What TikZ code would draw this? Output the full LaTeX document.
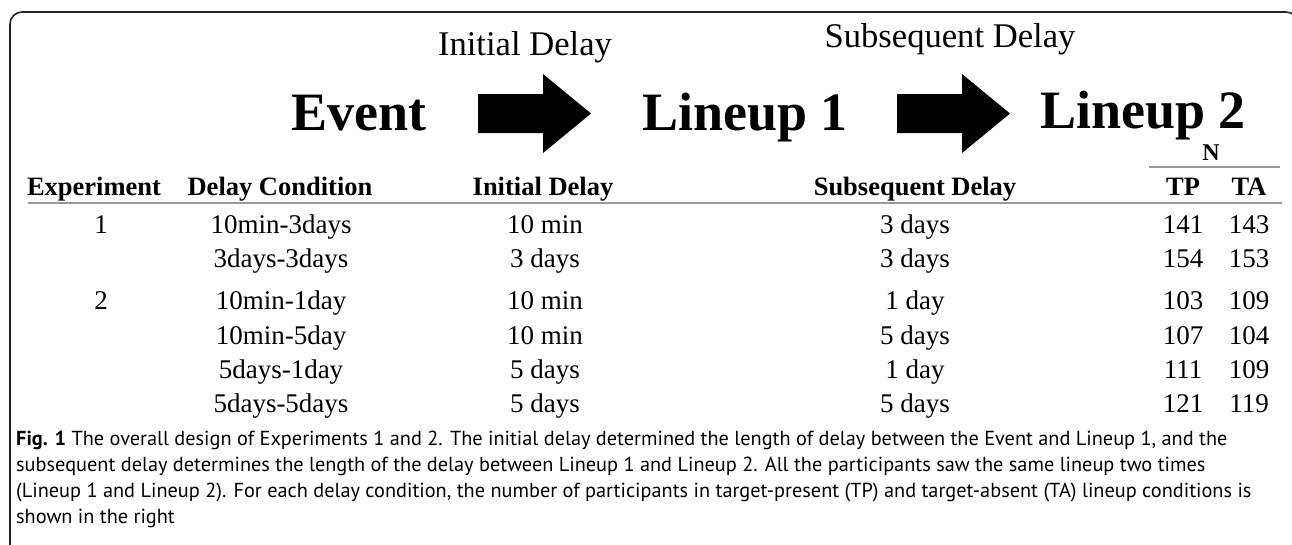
\documentclass[tikz,border=0pt]{standalone}
\usepackage{fontspec}
\setmainfont{Liberation Serif}
\newfontfamily\capfont{PT Sans}
\begin{document}
\begin{tikzpicture}[x=1pt,y=-1pt,
  big/.style={font=\fontsize{54}{60}\selectfont\bfseries, inner sep=0pt, anchor=base},
  toplbl/.style={font=\fontsize{34.6}{40}\selectfont, inner sep=0pt, anchor=base},
  hd/.style={font=\fontsize{26.5}{30}\selectfont\bfseries, inner sep=0pt, anchor=base},
  cell/.style={font=\fontsize{27}{30}\selectfont, inner sep=0pt, anchor=base},
  rulegray/.style={draw=black!40, line width=2.5pt},
  frame/.style={draw=black!85, line width=1.6pt, rounded corners=12pt},
  captext/.style={font=\capfont\fontsize{20.3}{26}\selectfont, inner sep=0pt, anchor=base west},
  blockarr/.pic={\fill (0,-19.5) -- (65,-19.5) -- (65,-39.5) -- (113,0) -- (65,39.5) -- (65,19.5) -- (0,19.5) -- cycle;}
]
\useasboundingbox (0,0) rectangle (1292,544);
\draw[frame] (10,560) -- (10,12) -- (1298,12) -- (1298,560);

% top diagram
\node[toplbl] (lbla) at (525,55) {Initial Delay};
\node[toplbl] (lblb) at (950,47) {Subsequent Delay};
\node[big] (event) at (359,130) {Event};
\node[big] (lu1) at (745,130) {Lineup 1};
\node[big] (lu2) at (1143,128) {Lineup 2};
\pic (arrA) at (478,113.5) {blockarr};
\pic (arrB) at (897,113.5) {blockarr};

% N group
\node[font=\fontsize{24}{28}\selectfont\bfseries, inner sep=0pt, anchor=base] (nn) at (1211,160) {N};
\coordinate (nl) at (1149,167);
\coordinate (nr) at (1280,167);
\draw[rulegray] (nl) -- (nr);

% header
\node[hd] (h1) at (94,195) {Experiment};
\node[hd] (h2) at (280,195) {Delay Condition};
\node[hd] (h3) at (543,195) {Initial Delay};
\node[hd] (h4) at (915,195) {Subsequent Delay};
\node[hd] (h5) at (1183,195) {TP};
\node[hd] (h6) at (1249,195) {TA};
\coordinate (rl) at (28,203);
\coordinate (rr) at (1282,203);
\draw[rulegray] (rl) -- (rr);

% rows
\node[cell] (e1) at (101,233) {1};
\node[cell] (e2) at (101,309) {2};
\foreach \yy/\d/\a/\b/\p/\q [count=\i] in {
  233/10min-3days/10 min/3 days/141/143,
  267/3days-3days/3 days/3 days/154/153,
  309/10min-1day/10 min/1 day/103/109,
  344/10min-5day/10 min/5 days/107/104,
  378/5days-1day/5 days/1 day/111/109,
  412/5days-5days/5 days/5 days/121/119}{
  \node[cell] (c\i) at (281,\yy) {\d};
  \node[cell] (a\i) at (545,\yy) {\a};
  \node[cell] (b\i) at (915,\yy) {\b};
  \node[cell] (p\i) at (1183,\yy) {\p};
  \node[cell] (q\i) at (1249,\yy) {\q};
}

% caption
\node[captext] (cap1) at (16,445) {\textbf{Fig. 1} The overall design of Experiments 1 and 2. The initial delay determined the length of delay between the Event and Lineup 1, and the};
\node[captext] (cap2) at (16,471) {subsequent delay determines the length of the delay between Lineup 1 and Lineup 2. All the participants saw the same lineup two times};
\node[captext] (cap3) at (16,497) {(Lineup 1 and Lineup 2). For each delay condition, the number of participants in target-present (TP) and target-absent (TA) lineup conditions is};
\node[captext] (cap4) at (16,523) {shown in the right};
\end{tikzpicture}
\end{document}
